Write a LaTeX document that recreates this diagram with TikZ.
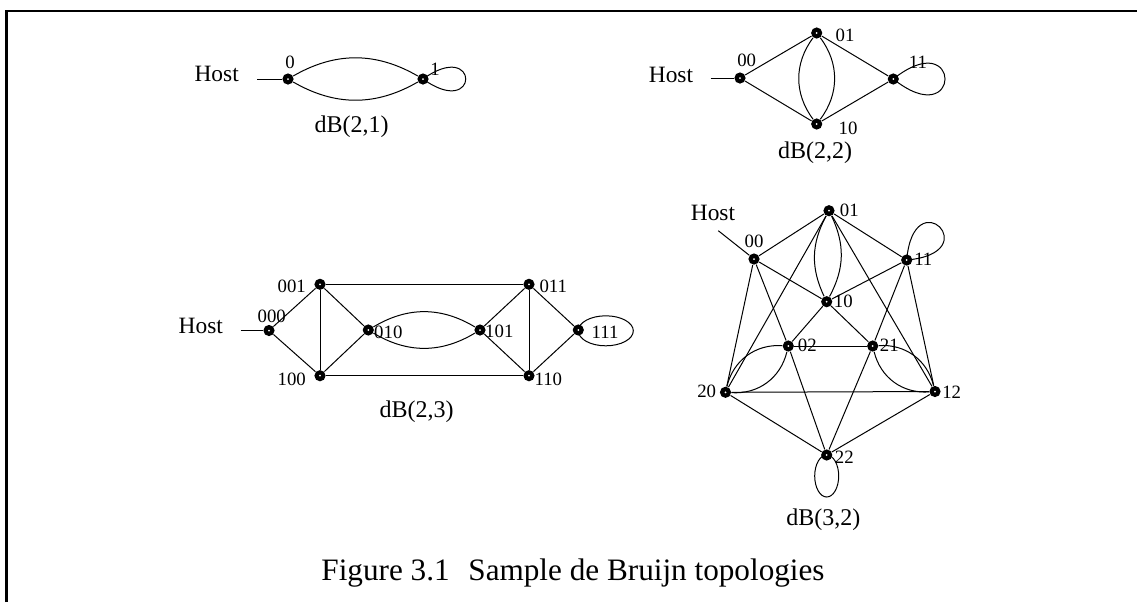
\documentclass[tikz,border=0pt]{standalone}
\usepackage{fontspec}
\setmainfont{Liberation Serif}
\pgfdeclarelayer{links}
\pgfsetlayers{links,main}
\tikzset{
  vtx/.style={circle, fill=black, inner sep=0pt, minimum size=5.6pt,
    path picture={\fill[white] (path picture bounding box.center) circle (0.5pt);}},
  lnk/.style={line width=0.5pt},
  num/.style={font=\fontsize{9.4}{10}\selectfont, inner sep=0pt},
  hostlbl/.style={font=\fontsize{11.7}{13}\selectfont, inner sep=0pt},
  sublbl/.style={font=\fontsize{12}{14}\selectfont, inner sep=0pt},
  figcap/.style={font=\fontsize{15.6}{18}\selectfont, inner sep=0pt},
  frameline/.style={line width=1.3pt},
}
\begin{document}
\begin{tikzpicture}[x=0.5pt, y=-0.5pt]
\useasboundingbox (0,0) rectangle (1137,602);

% page frame
\coordinate (fa) at (6.5,602);
\coordinate (fb) at (6.5,11);
\coordinate (fc) at (1137,11);
\draw[frameline] (fa) -- (fb) -- (fc);

% ---------------- dB(2,1)
\node[vtx] (a0) at (288,79) {};
\node[vtx] (a1) at (423,79) {};
\coordinate (ah) at (257,79);
\node[hostlbl] (ahost) at (216.7,73.5) {Host};
\node[num] (la0) at (290,62) {0};
\node[num] (la1) at (435,69) {1};
\node[sublbl] (ta) at (351.7,126.7) {dB(2,1)};
\begin{pgfonlayer}{links}
\draw[lnk] (ah) -- (a0);
\draw[lnk] (a0) to[bend left=30] (a1);
\draw[lnk] (a0) to[bend right=30] (a1);
\draw[lnk] (a1.center) .. controls +(57,-41) and +(57,41) .. (a1.center);
\end{pgfonlayer}

% ---------------- dB(2,2)
\node[vtx] (b00) at (740,78) {};
\node[vtx] (b01) at (816.7,33) {};
\node[vtx] (b10) at (816.7,124) {};
\node[vtx] (b11) at (893.3,79) {};
\coordinate (bh) at (710.7,78);
\node[hostlbl] (bhost) at (671,75) {Host};
\node[num] (lb00) at (746.7,60) {00};
\node[num] (lb01) at (845,35) {01};
\node[num] (lb10) at (848,128) {10};
\node[num] (lb11) at (918,62) {11};
\node[sublbl] (tb) at (815,153) {dB(2,2)};
\begin{pgfonlayer}{links}
\draw[lnk] (bh) -- (b00);
\draw[lnk] (b00) -- (b01);
\draw[lnk] (b00) -- (b10);
\draw[lnk] (b01) -- (b11);
\draw[lnk] (b10) -- (b11);
\draw[lnk] (b01) to[bend left=37] (b10);
\draw[lnk] (b01) to[bend right=37] (b10);
\draw[lnk] (b11.center) .. controls +(69,-55) and +(69,55) .. (b11.center);
\end{pgfonlayer}

% ---------------- dB(2,3)
\node[vtx] (c000) at (269,330.5) {};
\node[vtx] (c001) at (320,284.3) {};
\node[vtx] (c100) at (320,375.7) {};
\node[vtx] (c010) at (368.3,330) {};
\node[vtx] (c101) at (480,330) {};
\node[vtx] (c011) at (529,284.3) {};
\node[vtx] (c110) at (529,375.7) {};
\node[vtx] (c111) at (578.3,330) {};
\coordinate (ch) at (240.7,330.5);
\node[hostlbl] (chost) at (200.8,326) {Host};
\node[num] (lc001) at (291.7,286.7) {001};
\node[num] (lc000) at (271.7,316) {000};
\node[num] (lc100) at (291.7,379.3) {100};
\node[num] (lc010) at (388.3,332.7) {010};
\node[num] (lc101) at (499.3,331.7) {101};
\node[num] (lc011) at (553.3,286) {011};
\node[num] (lc110) at (548.3,379.3) {110};
\node[num] (lc111) at (605,332.7) {111};
\node[sublbl] (tc) at (416.7,411.7) {dB(2,3)};
\begin{pgfonlayer}{links}
\draw[lnk] (ch) -- (c000);
\draw[lnk] (c000) -- (c001);
\draw[lnk] (c000) -- (c100);
\draw[lnk] (c001) -- (c100);
\draw[lnk] (c001) -- (c011);
\draw[lnk] (c100) -- (c110);
\draw[lnk] (c001) -- (c010);
\draw[lnk] (c100) -- (c010);
\draw[lnk] (c010) to[bend left=31] (c101);
\draw[lnk] (c010) to[bend right=31] (c101);
\draw[lnk] (c011) -- (c101);
\draw[lnk] (c110) -- (c101);
\draw[lnk] (c011) -- (c110);
\draw[lnk] (c011) -- (c111);
\draw[lnk] (c110) -- (c111);
\draw[lnk] ([xshift=13.75pt,yshift=-0.4pt]c111.center) ellipse [x radius=13.75pt, y radius=7.5pt];
\end{pgfonlayer}

% ---------------- dB(3,2)
\node[vtx] (d00) at (754,259) {};
\node[vtx] (d01) at (829,210.7) {};
\node[vtx] (d11) at (906.7,260) {};
\node[vtx] (d10) at (826.7,301.7) {};
\node[vtx] (d02) at (788.3,346) {};
\node[vtx] (d21) at (872.7,346) {};
\node[vtx] (d20) at (725.5,392.3) {};
\node[vtx] (d12) at (935,391.5) {};
\node[vtx] (d22) at (826.7,455) {};
\coordinate (dh) at (718.3,230.7);
\node[hostlbl] (dhost) at (713,213.3) {Host};
\node[num] (ld01) at (849.3,210) {01};
\node[num] (ld00) at (754,241.7) {00};
\node[num] (ld11) at (923.3,259) {11};
\node[num] (ld10) at (843.3,301.7) {10};
\node[num] (ld02) at (807.3,345.7) {02};
\node[num] (ld21) at (889.3,345.7) {21};
\node[num] (ld20) at (706.7,391.7) {20};
\node[num] (ld12) at (951.7,392.3) {12};
\node[num] (ld22) at (844.3,457.3) {22};
\node[sublbl] (td) at (823.3,520) {dB(3,2)};
\begin{pgfonlayer}{links}
\draw[lnk] (dh) -- (d00);
\draw[lnk] (d00) -- (d01);
\draw[lnk] (d00) -- (d02);
\draw[lnk] (d00) -- (d10);
\draw[lnk] (d00) -- (d20);
\draw[lnk] (d01) to[bend left=27] (d10);
\draw[lnk] (d01) to[bend right=27] (d10);
\draw[lnk] (d01) -- (d11);
\draw[lnk] (d01) -- (d12);
\draw[lnk] (d01) -- (d20);
\draw[lnk] (d02) to[bend left=40] (d20);
\draw[lnk] (d02) to[bend right=40] (d20);
\draw[lnk] (d02) -- (d21);
\draw[lnk] (d02) -- (d22);
\draw[lnk] (d02) -- (d10);
\draw[lnk] (d10) -- (d11);
\draw[lnk] (d11) -- (d12);
\draw[lnk] (d11) -- (d21);
\draw[lnk] (d12) -- (d20);
\draw[lnk] (d21) to[bend left=40] (d12);
\draw[lnk] (d21) to[bend right=40] (d12);
\draw[lnk] (d12) -- (d22);
\draw[lnk] (d21) -- (d10);
\draw[lnk] (d22) -- (d20);
\draw[lnk] (d22) -- (d21);
\draw[lnk] (d11.center) .. controls +(7,-81) and +(81,-7) .. (d11.center);
\draw[lnk] ([yshift=-10.5pt]d22.center) ellipse [x radius=6pt, y radius=10.5pt];
\end{pgfonlayer}

% caption
\node[figcap] (figtitle) at (573,573) {Figure 3.1\hspace{0.6em}Sample de Bruijn topologies};
\end{tikzpicture}
\end{document}
